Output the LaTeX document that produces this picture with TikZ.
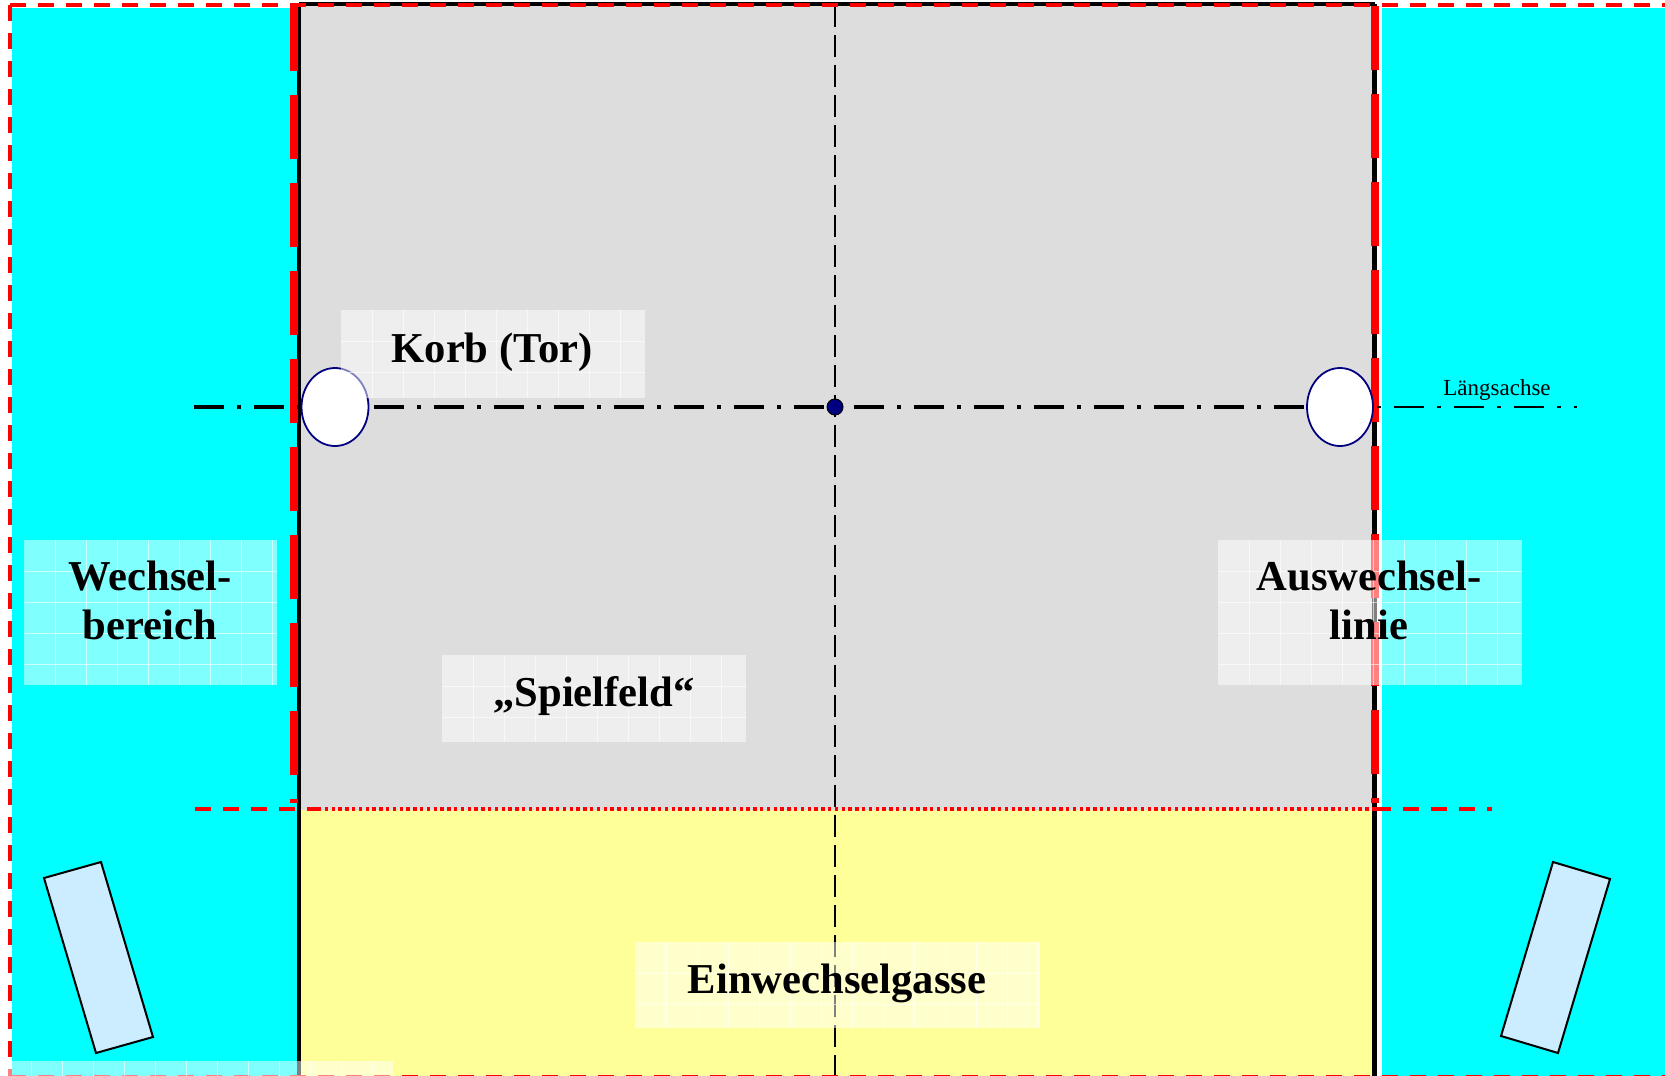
\documentclass[tikz,border=0pt]{standalone}
\usepackage{fontspec}
\setmainfont{Liberation Serif}
\definecolor{cyanbg}{HTML}{00FFFF}
\definecolor{fieldgray}{HTML}{DDDDDD}
\definecolor{laneyellow}{HTML}{FFFF99}
\definecolor{benchblue}{HTML}{CCECFF}
\definecolor{navy}{HTML}{000080}
\tikzset{
  lbl/.style={font=\fontsize{21.3}{24.5}\selectfont\bfseries, align=center, inner sep=0pt},
  smalllbl/.style={font=\fontsize{11.5}{13}\selectfont, inner sep=0pt},
  boxfill/.style={fill=white, fill opacity=0.5},
  gridline/.style={draw=white, draw opacity=0.6, line width=0.5pt},
  reddash/.style={draw=red, line width=2pt, dash pattern=on 8pt off 6pt},
  redthick/.style={draw=red, line width=4pt, dash pattern=on 32pt off 12pt},
  reddot/.style={draw=red, line width=2pt, dash pattern=on 1.7pt off 1.7pt},
  axisline/.style={draw=black, line width=1.75pt, dash pattern=on 15pt off 6.5pt on 2pt off 6.5pt},
  axisthin/.style={draw=black, line width=1pt, dash pattern=on 15pt off 6.5pt on 2pt off 6.5pt, dash phase=20.5pt},
  centerline/.style={draw=black, line width=1.2pt, dash pattern=on 11pt off 4pt},
  goal/.style={draw=navy, fill=white, line width=0.9pt},
  bench/.style={draw=black, fill=benchblue, line width=1pt, line join=miter},
  fieldline/.style={draw=black, line width=2pt}
}
\newcommand\mygridbox[4]{%
  \fill[boxfill] (#1,#2) rectangle (#3,#4);
  \begin{scope}
    \clip (#1,#2) rectangle (#3,#4);
    \foreach \gx in {1,...,14} \draw[gridline] ({#1+31*\gx},#2) -- ({#1+31*\gx},#4);
    \foreach \gy in {1,...,5} \draw[gridline] (#1,{#2+31*\gy}) -- (#3,{#2+31*\gy});
  \end{scope}}
\begin{document}
\begin{tikzpicture}[x=0.5pt, y=-0.5pt]
\useasboundingbox (0,0) rectangle (1665,1076);
\clip (0,0) rectangle (1665,1076);
\fill[white] (0,0) rectangle (1665,1076);
% backgrounds
\fill[cyanbg] (12,8) rectangle (299,1076);
\fill[cyanbg] (1382,8) rectangle (1665,1076);
\fill[fieldgray] (299,5) rectangle (1375,810);
\fill[laneyellow] (299,810) rectangle (1375,1076);
% centre line
\coordinate (ctop) at (835,5);
\coordinate (cbot) at (835,1076);
\draw[centerline] (ctop) -- (cbot);
% field border lines
\coordinate (fl1) at (299,4);
\coordinate (fl2) at (299,1076);
\coordinate (fr1) at (1374.5,4);
\coordinate (fr2) at (1374.5,1076);
\draw[fieldline] (fl1) -- (fl2);
\draw[fieldline, line width=2.5pt] (fr1) -- (fr2);
\draw[fieldline] (fl1) -- (fr1);
% thick red dashed lines
\coordinate (rl1) at (294,7);
\coordinate (rl2) at (294,803);
\coordinate (rr1) at (1375,6);
\coordinate (rr2) at (1375,803);
\draw[redthick] (rl1) -- (rl2);
\draw[redthick] (rr1) -- (rr2);
% outer red dashed border
\coordinate (o1) at (10,1077);
\coordinate (o2) at (10,5);
\coordinate (o3) at (1680,5);
\coordinate (o4) at (1680,1077);
\coordinate (o5) at (10,1077);
\draw[reddash] (o2) -- (o3);
\draw[reddash] (o2) -- (o1);
\draw[reddash] (o5) -- (o4);
% horizontal red line
\coordinate (h1) at (195,809);
\coordinate (h2) at (318,809);
\coordinate (h3) at (1375,809);
\coordinate (h4) at (1492,809);
\draw[reddash] (h1) -- (h2);
\draw[reddot] (h2) -- (h3);
\draw[reddash] (h3) -- (h4);
% long axis
\coordinate (a1) at (194,407);
\coordinate (a2) at (1375,407);
\coordinate (a3) at (1577,407);
\draw[axisline] (a1) -- (a2);
\draw[axisthin] (a2) -- (a3);
% goals and centre point
\draw[goal] (335,407) ellipse [x radius=33.5, y radius=39];
\draw[goal] (1340,407) ellipse [x radius=33, y radius=39];
\fill[navy, draw=black, line width=0.5pt] (835,407) circle [radius=8];
% benches
\draw[bench] (44,878) -- (101,862) -- (153,1037) -- (96,1053) -- cycle;
\draw[bench] (1553,862) -- (1610,879) -- (1558,1053) -- (1501,1036) -- cycle;
% label boxes
\mygridbox{341}{310}{645}{398}
\mygridbox{24}{540}{277}{685}
\mygridbox{1218}{540}{1522}{685}
\mygridbox{442}{655}{746}{742}
\mygridbox{635}{942}{1040}{1028}
\mygridbox{0}{1061}{393}{1090}
% texts
\node[lbl, anchor=base] (korb) at (492,362) {Korb (Tor)};
\node[lbl] (wechsel) at (150,600) {Wechsel-\\bereich};
\node[lbl] (auswechsel) at (1369,600) {Auswechsel-\\linie};
\node[lbl, anchor=base] (spielfeld) at (594,706) {„Spielfeld“};
\node[lbl, anchor=base] (einwechsel) at (837,993) {Einwechselgasse};
\node[smalllbl, anchor=base] (laengs) at (1497,395) {Längsachse};
\end{tikzpicture}
\end{document}
